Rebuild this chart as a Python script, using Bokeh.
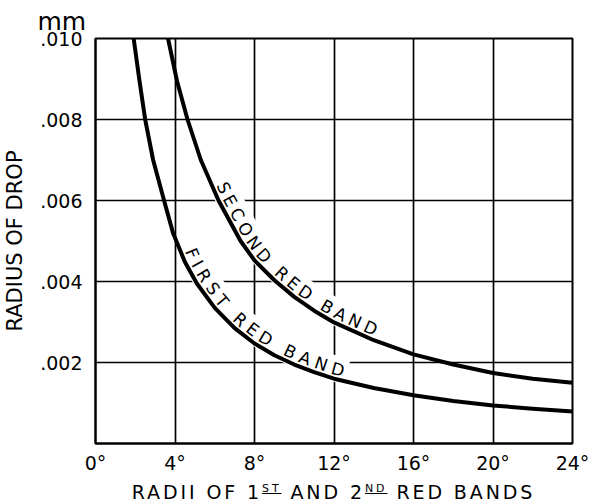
import math
import numpy as np
from bokeh.plotting import figure
from bokeh.models import FixedTicker, CustomJSTickFormatter, Title, Div
from bokeh.layouts import column
from bokeh.core.properties import value
from bokeh.embed import file_html
from bokeh.resources import INLINE

# ---------------- data ----------------
x_ticks = [0, 4, 8, 12, 16, 20, 24]
y_ticks = [0.002, 0.004, 0.006, 0.008, 0.010]

first_deg = [1.92, 2.2, 2.5, 2.9, 3.45, 3.9, 4.5, 5.1, 6.0, 7.0, 8.0, 9.0,
             10.0, 11.0, 12.0, 14.0, 16.0, 18.0, 20.0, 22.0, 24.0]
first_r = [0.0100, 0.0090, 0.0080, 0.0070, 0.0060, 0.0052, 0.00448, 0.00395,
           0.00335, 0.00285, 0.00247, 0.00218, 0.00195, 0.00176, 0.0016,
           0.00137, 0.00119, 0.00105, 0.00094, 0.00086, 0.00079]

second_deg = [3.65, 4.1, 4.63, 5.3, 6.19, 7.3, 8.0, 9.0, 10.0, 11.0, 12.0,
              14.0, 16.0, 18.0, 20.0, 22.0, 24.0]
second_r = [0.0100, 0.00895, 0.0080, 0.0070, 0.0060, 0.0050, 0.00452, 0.00403,
            0.00362, 0.00328, 0.00299, 0.00255, 0.0022, 0.00195, 0.00174,
            0.0016, 0.0015]

first_label = "FIRST RED BAND"
second_label = "SECOND RED BAND"
first_label_start = 4.4     # degree on curve where label begins
second_label_start = 6.0
x_title_html = ("RADII OF 1<sup><u>ST</u></sup> AND 2<sup><u>ND</u></sup> RED BANDS")
y_title = "RADIUS OF DROP"
unit_label = "mm"

# ---------------- layout ----------------
FONT = "DejaVu Sans"
FW, FH = 477, 405
LEFT, RIGHT, TOP, BOTTOM = 95, 18, 38, 35
X0, X1 = 0, 24
Y0, Y1 = 0.0, 0.010

p = figure(frame_width=FW, frame_height=FH, x_range=(X0, X1), y_range=(Y0, Y1),
           output_backend="svg", toolbar_location=None,
           min_border_left=LEFT, min_border_right=RIGHT, min_border_top=TOP,
           min_border_bottom=BOTTOM)
p.background_fill_color = "white"
p.border_fill_color = "white"
p.outline_line_color = "black"
p.outline_line_width = 2
p.outline_line_alpha = 1

p.xgrid.ticker = FixedTicker(ticks=x_ticks)
p.ygrid.ticker = FixedTicker(ticks=y_ticks)
for g in (p.xgrid, p.ygrid):
    g.grid_line_color = "black"
    g.grid_line_width = 1.7
    g.grid_line_alpha = 1

p.xaxis.ticker = FixedTicker(ticks=x_ticks)
p.yaxis.ticker = FixedTicker(ticks=y_ticks)
p.xaxis.formatter = CustomJSTickFormatter(code="return tick.toFixed(0) + '\u00b0';")
p.yaxis.formatter = CustomJSTickFormatter(code="return tick.toFixed(3).slice(1);")
for ax in (p.xaxis, p.yaxis):
    ax.axis_line_color = "black"
    ax.axis_line_width = 2
    ax.major_tick_line_color = None
    ax.minor_tick_line_color = None
    ax.major_tick_in = 0
    ax.major_tick_out = 0
    ax.major_label_text_font = FONT
    ax.major_label_text_font_size = "19px"
    ax.major_label_text_color = "black"
p.xaxis.major_label_standoff = 8
p.yaxis.major_label_standoff = 13

p.yaxis.axis_label = y_title
p.yaxis.axis_label_text_font = FONT
p.yaxis.axis_label_text_font_size = "21px"
p.yaxis.axis_label_text_font_style = "normal"
p.yaxis.axis_label_text_color = "black"
p.yaxis.axis_label_standoff = 10

# unit label above the .010 tick label
p.add_layout(Title(text=unit_label, align="left", offset=-58, standoff=5,
                   text_font=FONT, text_font_size="25px",
                   text_font_style="normal", text_color="black"), "above")

# ---------------- helpers ----------------
ADV = {' ': 0.318, '.': 0.318, 'A': 0.684, 'B': 0.686, 'C': 0.698, 'D': 0.770,
       'E': 0.632, 'F': 0.575, 'I': 0.295, 'N': 0.748, 'O': 0.787, 'R': 0.695,
       'S': 0.635, 'T': 0.611}


def px_to_data(fx, fy):
    return X0 + fx / FW * (X1 - X0), Y0 + fy / FH * (Y1 - Y0)


def along_curve(deg, r, text, start_deg, size, extra, offset):
    deg = np.asarray(deg, float)
    r = np.asarray(r, float)
    sx = (deg - X0) / (X1 - X0) * FW
    sy = (r - Y0) / (Y1 - Y0) * FH
    s = np.concatenate([[0.0], np.cumsum(np.hypot(np.diff(sx), np.diff(sy)))])

    def pos(si):
        return np.interp(si, s, sx), np.interp(si, s, sy)

    cur = np.interp(start_deg, deg, s)
    xs, ys, angs = [], [], []
    prev = None
    for ch in text:
        w = ADV.get(ch, 0.7) * size
        if prev is not None:
            cur += prev / 2 + w / 2 + extra
        prev = w
        px, py = pos(cur)
        ax_, ay_ = pos(cur - 7)
        bx_, by_ = pos(cur + 7)
        tx, ty = bx_ - ax_, by_ - ay_
        n = math.hypot(tx, ty)
        tx, ty = tx / n, ty / n
        nx, ny = -ty, tx
        cx, cy = px + nx * offset, py + ny * offset
        dx, dy = px_to_data(cx, cy)
        xs.append(dx)
        ys.append(dy)
        angs.append(math.atan2(ty, tx))
    return xs, ys, angs


# ---------------- curved labels (white background cuts the grid) ----------------
LSIZE = 17
for deg, r, txt, st, extra in ((first_deg, first_r, first_label, first_label_start, 5.4),
                               (second_deg, second_r, second_label, second_label_start, 4.3)):
    xs, ys, angs = along_curve(deg, r, txt, st, LSIZE, extra, 10.0)
    p.text(x=xs, y=ys, text=list(txt), angle=angs,
           text_align="center", text_baseline="middle",
           text_font=value(FONT), text_font_size=f"{LSIZE}px", text_color="black",
           background_fill_color="white", padding=3)

# ---------------- curves ----------------
p.line(first_deg, first_r, line_color="black", line_width=4, line_join="round")
p.line(second_deg, second_r, line_color="black", line_width=4, line_join="round")

# ---------------- x title (with underlined superscripts) ----------------
html = ("<div style=\"width:%dpx;text-align:center;font-family:'DejaVu Sans';"
        "font-size:19px;letter-spacing:2.9px;line-height:24px;padding-top:2px;"
        "white-space:nowrap;color:black;\">%s</div>" % (FW, x_title_html.replace(
            "<sup>", "<sup style=\"font-size:11px;vertical-align:7px;line-height:0;\">")))
div = Div(text=html, width=FW, height=26, margin=(0, 0, 0, LEFT))

layout = column(p, div, spacing=0)
open("out.html", "w").write(file_html(layout, INLINE))
